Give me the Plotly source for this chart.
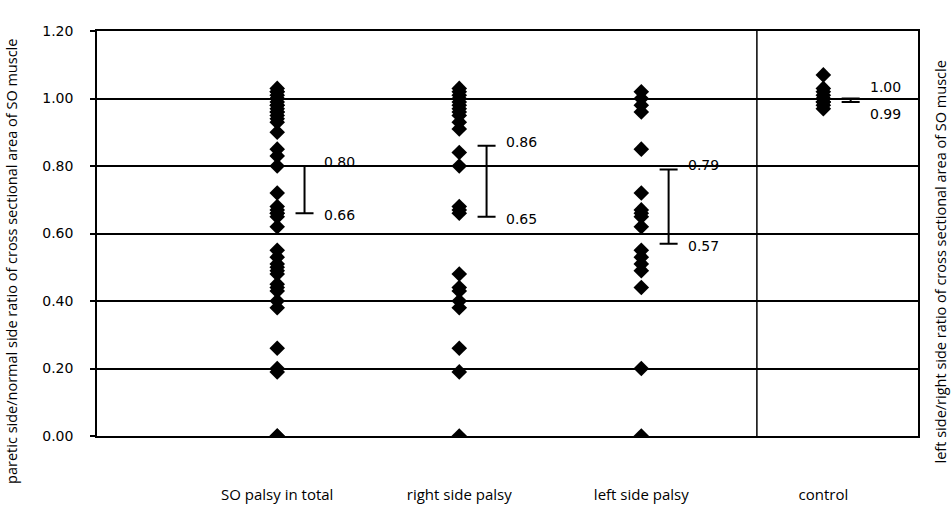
import plotly.graph_objects as go

categories = ["SO palsy in total", "right side palsy", "left side palsy", "control"]

so_total = [1.03, 1.02, 1.02, 1.01, 1.00, 1.00, 0.99, 0.98, 0.98, 0.97, 0.96, 0.96, 0.95, 0.94,
            0.93, 0.90, 0.85, 0.83, 0.80, 0.72, 0.68, 0.67, 0.66, 0.66, 0.65, 0.62,
            0.55, 0.53, 0.51, 0.50, 0.49, 0.48, 0.45, 0.44, 0.43, 0.40, 0.38, 0.26,
            0.20, 0.19, 0.00, 0.00]
right_side = [1.03, 1.02, 1.01, 1.00, 0.99, 0.98, 0.97, 0.96, 0.95, 0.93, 0.91,
              0.84, 0.80, 0.68, 0.67, 0.66, 0.48, 0.44, 0.43, 0.40, 0.38,
              0.26, 0.19, 0.00]
left_side = [1.02, 1.00, 0.98, 0.96, 0.85, 0.72, 0.67, 0.66, 0.65, 0.62,
             0.55, 0.53, 0.51, 0.49, 0.44, 0.20, 0.00]
control = [1.07, 1.03, 1.02, 1.01, 1.00, 1.00, 0.99, 0.99, 0.98, 0.97]

ci_high = [0.80, 0.86, 0.79, 1.00]
ci_low = [0.66, 0.65, 0.57, 0.99]
ci_high_text = ["0.80", "0.86", "0.79", "1.00"]
ci_low_text = ["0.66", "0.65", "0.57", "0.99"]

groups = [so_total, right_side, left_side, control]
positions = [1, 2, 3, 4]

fig = go.Figure()

for pos, vals in zip(positions, groups):
    fig.add_trace(go.Scatter(
        x=[pos] * len(vals), y=vals, mode="markers",
        marker=dict(symbol="diamond", size=12, color="black"),
        showlegend=False, hoverinfo="y"))

off = 0.15
err_x = [p + off for p in positions]
mids = [(h + l) / 2 for h, l in zip(ci_high, ci_low)]
fig.add_trace(go.Scatter(
    x=err_x, y=mids, mode="markers",
    marker=dict(size=1, color="rgba(0,0,0,0)"),
    error_y=dict(type="data", symmetric=False,
                 array=[h - m for h, m in zip(ci_high, mids)],
                 arrayminus=[m - l for l, m in zip(ci_low, mids)],
                 color="black", thickness=2, width=9),
    showlegend=False, hoverinfo="skip"))

for i, (xx, h, l, ht, lt) in enumerate(zip(err_x, ci_high, ci_low, ci_high_text, ci_low_text)):
    up_shift = 12 if i == 3 else 4
    lo_shift = -12 if i == 3 else -2
    fig.add_annotation(x=xx, y=h, text=ht, showarrow=False, xanchor="left", yanchor="middle",
                       xshift=17, yshift=up_shift,
                       font=dict(family="DejaVu Sans", size=14, color="black"))
    fig.add_annotation(x=xx, y=l, text=lt, showarrow=False, xanchor="left", yanchor="middle",
                       xshift=17, yshift=lo_shift,
                       font=dict(family="DejaVu Sans", size=14, color="black"))

# separator between patient groups and control
fig.add_shape(type="line", x0=3.635, x1=3.635, y0=0, y1=1.2, xref="x", yref="y",
              line=dict(color="black", width=1.5))

fig.add_annotation(text="paretic side/normal side ratio of cross sectional area of SO muscle",
                   xref="paper", yref="paper", x=-0.1035, y=0.43, textangle=-90,
                   xanchor="center", yanchor="middle",
                   showarrow=False, font=dict(family="Open Sans", size=14.5, color="black"))
fig.add_annotation(text="left side/right side ratio of cross sectional area of SO muscle",
                   xref="paper", yref="paper", x=1.0275, y=0.43, textangle=-90,
                   xanchor="center", yanchor="middle",
                   showarrow=False, font=dict(family="Open Sans", size=14.5, color="black"))

fig.update_layout(
    width=952, height=517,
    margin=dict(l=97, r=34, t=31, b=81),
    paper_bgcolor="white", plot_bgcolor="white",
    showlegend=False,
)
fig.update_xaxes(range=[0.01, 4.52], tickvals=positions, ticktext=categories,
                 showgrid=False, zeroline=False, showline=True, mirror=True,
                 linecolor="black", linewidth=1.5, ticks="",
                 ticklabelstandoff=44,
                 tickfont=dict(family="Open Sans", size=15, color="black"))
fig.update_yaxes(range=[0, 1.2], tickvals=[0, 0.2, 0.4, 0.6, 0.8, 1.0, 1.2],
                 tickformat=".2f", showgrid=True, gridcolor="black", gridwidth=1.5,
                 zeroline=False, showline=True, mirror=True, linecolor="black", linewidth=1.5,
                 ticks="outside", ticklen=5, tickcolor="black", tickwidth=1.5,
                 ticklabelstandoff=14,
                 tickfont=dict(family="DejaVu Sans", size=14, color="black"))

fig.write_html("out.html", config={"displayModeBar": False},
               post_script="document.body.style.margin='0px';")
